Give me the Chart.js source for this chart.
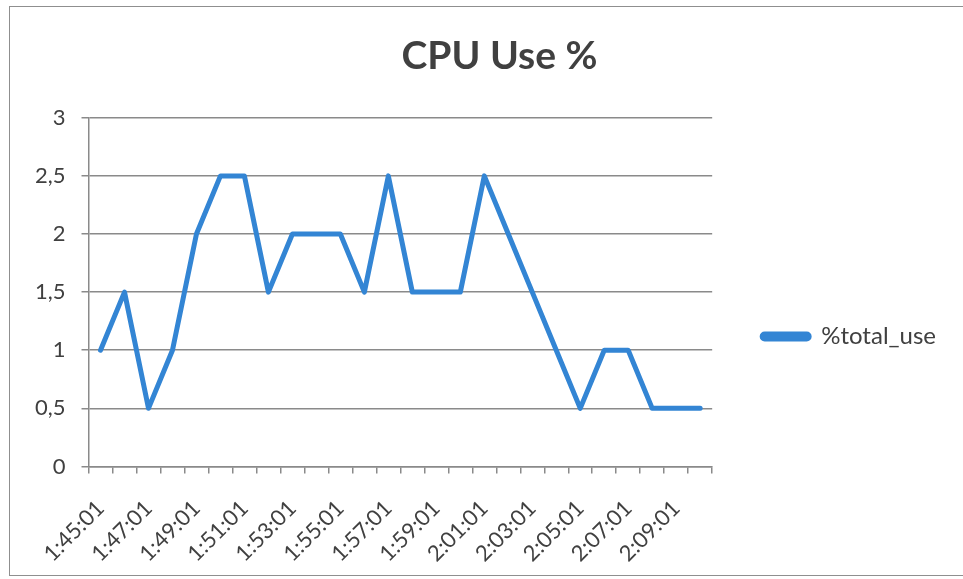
<!DOCTYPE html>
<html>
<head>
<meta charset="utf-8">
<script src="https://cdn.jsdelivr.net/npm/chart.js@4/dist/chart.umd.min.js"></script>
<style>
  html, body { margin: 0; padding: 0; background: #fff; overflow: hidden; }
  #wrap { position: absolute; left: 0; top: 0; width: 963px; height: 579px; }
  #frame { position: absolute; left: 9px; top: 6px; width: 1000px; height: 570px; border: 1.5px solid #8f8f8f; box-sizing: border-box; pointer-events: none; }
</style>
</head>
<body>
<div id="wrap"><canvas id="c" width="963" height="579"></canvas></div>
<div id="frame"></div>
<script>
const categories = ["1:45:01","1:46:01","1:47:01","1:48:01","1:49:01","1:50:01","1:51:01","1:52:01","1:53:01","1:54:01","1:55:01","1:56:01","1:57:01","1:58:01","1:59:01","2:00:01","2:01:01","2:02:01","2:03:01","2:04:01","2:05:01","2:06:01","2:07:01","2:08:01","2:09:01","2:10:01"];
const totalUse = [1,1.5,0.5,1,2,2.5,2.5,1.5,2,2,2,1.5,2.5,1.5,1.5,1.5,2.5,2,1.5,1,0.5,1,1,0.5,0.5,0.5];
const yTicks = [0,0.5,1,1.5,2,2.5,3];
const seriesName = "%total_use";
const chartTitle = "CPU Use %";

const FONT = "Lato, 'Open Sans', sans-serif";
const TEXT = "#404040";
const GRID = "#8a8a8a";

// Centre the title across the whole chart frame rather than the padded box.
const centreTitle = {
  id: 'centreTitle',
  afterLayout(chart) {
    const t = chart.titleBlock;
    if (t) { t.left = 12; t.right = 987; t.width = 975; }
  }
};

new Chart(document.getElementById('c'), {
  type: 'line',
  data: {
    labels: categories,
    datasets: [{
      label: seriesName,
      data: totalUse,
      borderColor: '#3385d4',
      backgroundColor: '#3385d4',
      borderWidth: 5,
      pointRadius: 0,
      tension: 0,
      borderJoinStyle: 'round',
      borderCapStyle: 'round',
      fill: false
    }]
  },
  plugins: [centreTitle],
  options: {
    responsive: false,
    animation: false,
    layout: { padding: { left: 12, right: 17, top: 10, bottom: -10 } },
    plugins: {
      title: {
        display: true,
        text: chartTitle,
        color: TEXT,
        font: { family: FONT, size: 39, weight: 'bold' },
        padding: { top: 23, bottom: 38 }
      },
      legend: {
        position: 'right',
        align: 'center',
        maxWidth: 400,
        title: { display: true, text: ' ', font: { size: 10 }, padding: { top: 0, bottom: 62 } },
        labels: {
          color: TEXT,
          font: { family: FONT, size: 24 },
          boxWidth: 47,
          boxHeight: 5,
          padding: 50,
          useBorderRadius: true,
          borderRadius: 2.5
        }
      },
      tooltip: { enabled: false }
    },
    scales: {
      x: {
        offset: true,
        grid: { offset: true, drawOnChartArea: false, drawTicks: true, tickLength: 7, color: GRID, lineWidth: 1.5 },
        border: { display: true, color: GRID, width: 1.5 },
        ticks: {
          autoSkip: false,
          maxRotation: 45,
          minRotation: 45,
          color: TEXT,
          font: { family: FONT, size: 22 },
          padding: 22,
          callback: function(v, i) { return i % 2 === 0 ? categories[i] : ''; }
        }
      },
      y: {
        min: 0,
        max: 3,
        afterBuildTicks: function(axis) { axis.ticks = yTicks.map(v => ({ value: v })); },
        afterFit: function(axis) { axis.width += 7; },
        grid: { color: GRID, lineWidth: 1.5, tickLength: 7 },
        border: { display: true, color: GRID, width: 1.5 },
        ticks: {
          color: TEXT,
          font: { family: FONT, size: 22 },
          padding: 16,
          callback: function(v) { return String(v).replace('.', ','); }
        }
      }
    }
  }
});
</script>
</body>
</html>
